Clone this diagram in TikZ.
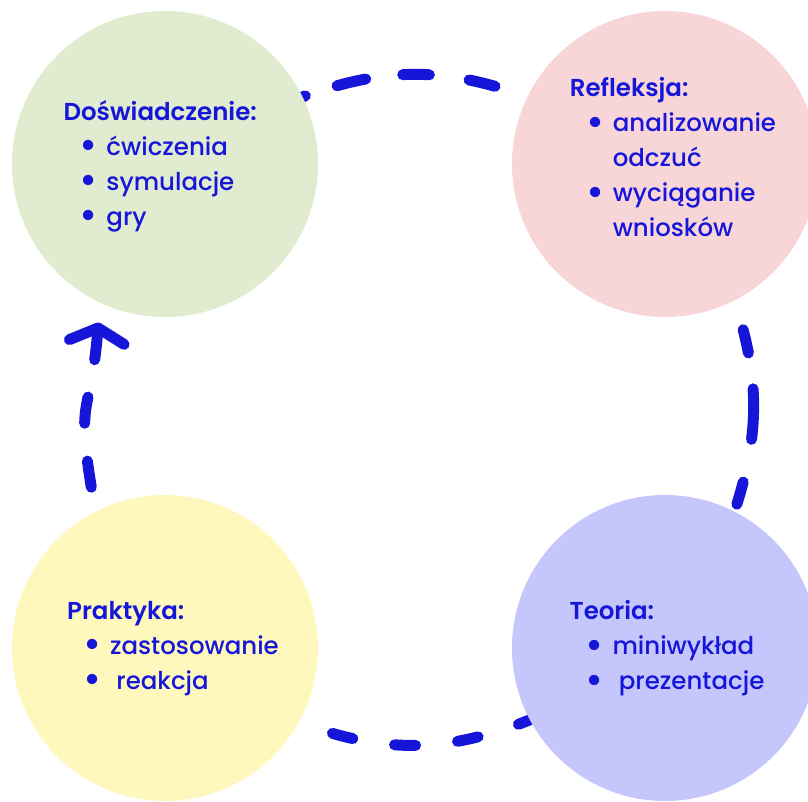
\documentclass[tikz,border=0pt]{standalone}
\usepackage{fontspec}
\setmainfont{Poppins}[UprightFont=* Medium, BoldFont=* SemiBold]
\usepackage{tikz}
\usetikzlibrary{arrows.meta, backgrounds}
\definecolor{cycleblue}{HTML}{1616D9}
\definecolor{greenbg}{HTML}{E0EBD0}
\definecolor{pinkbg}{HTML}{F8D6D8}
\definecolor{yellowbg}{HTML}{FEF8BD}
\definecolor{violetbg}{HTML}{C5C7FC}
\tikzstyle{blob} = [circle, minimum size=7.65cm, inner sep=0pt]
\tikzstyle{blobtext} = [align=left, inner sep=0pt, text=cycleblue, font=\fontsize{17.4pt}{24.9pt}\selectfont]
\tikzstyle{cycleline} = [line width=7.8pt, cycleblue, line cap=round, dash pattern=on 19pt off 28.5pt]
\newcommand{\blt}{\makebox[0pt]{\raisebox{-2.3pt}{\scalebox{1.6}{\textbullet}}}}
\newcommand{\itm}[1]{\hspace*{18pt}\blt\hspace*{12.5pt}#1}
\newcommand{\cont}[1]{\hspace*{30.5pt}#1}

\begin{document}
\begin{tikzpicture}[node distance=12.5cm]

\useasboundingbox (-4.125,-15.925) rectangle (16.075,4.1);
\clip (-4.125,-15.925) rectangle (16.075,4.1);

\node (dosw)  [blob, fill=greenbg] {};
\node (refl)  [blob, fill=pinkbg, right of=dosw] {};
\node (prakt) [blob, fill=yellowbg, node distance=12.1cm, below of=dosw] {};
\node (teor)  [blob, fill=violetbg, right of=prakt] {};

\node (dosw-txt)  [blobtext, xshift=-0.12cm, yshift=-0.05cm] at (dosw) {\textbf{Doświadczenie:}\\\itm{ćwiczenia}\\\itm{symulacje}\\\itm{gry}};
\node (refl-txt)  [blobtext, xshift=0.2cm, yshift=0.165cm] at (refl) {\textbf{Refleksja:}\\\itm{analizowanie}\\\cont{odczuć}\\\itm{wyciąganie}\\\cont{wniosków}};
\node (prakt-txt) [blobtext, xshift=0.2cm, yshift=-0.015cm] at (prakt) {\textbf{Praktyka:}\\\itm{zastosowanie}\\\itm{\ reakcja}};
\node (teor-txt)  [blobtext, xshift=0.05cm, yshift=-0.015cm] at (teor) {\textbf{Teoria:}\\\itm{miniwykład}\\\itm{\ prezentacje}};

% dashed cycle, under the circles
\begin{scope}[on background layer]
\draw[cycleline, dash pattern=on 2pt off 23.6pt on 21pt off 26.5pt on 19pt off 28.5pt on 19pt off 28.5pt] (dosw.26) to[bend left=20] (refl.154);
\draw[cycleline, dash pattern=on 17pt off 25.7pt on 36pt off 31pt on 16.4pt off 21.6pt, dash phase=126.1pt] (refl.-63) to[bend left=18] (teor.63);
\draw[cycleline, dash pattern=on 15pt off 30pt, dash phase=20pt] (prakt.-29) to[bend right=21] (teor.-152);
\draw[cycleline, dash pattern=on 18.8pt off 27pt, {Straight Barb[length=10pt, width=39pt, round]}-, shorten <=14pt] (dosw.-115) to[out=-95, in=100, looseness=1.5] (prakt.117);
\end{scope}

\end{tikzpicture}
\end{document}
